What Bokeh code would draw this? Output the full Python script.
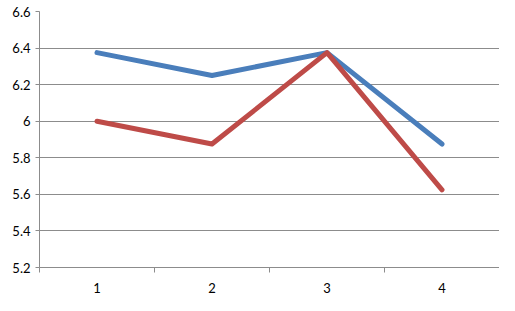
from bokeh.plotting import figure
from bokeh.models import FixedTicker, NumeralTickFormatter, Range1d
from bokeh.embed import file_html
from bokeh.resources import INLINE

categories = ["1", "2", "3", "4"]
series_blue = [6.375, 6.25, 6.375, 5.875]
series_red = [6.0, 5.875, 6.375, 5.625]
y_ticks = [5.2, 5.4, 5.6, 5.8, 6.0, 6.2, 6.4, 6.6]

xs = list(range(1, len(categories) + 1))

p = figure(width=499, height=295, output_backend="svg", toolbar_location=None,
           x_range=Range1d(0.5, len(categories) + 0.5), y_range=Range1d(5.2, 6.6),
           min_border_left=39, min_border_right=0, min_border_top=11, min_border_bottom=0)
p.outline_line_color = None
p.background_fill_color = "white"
p.border_fill_color = "white"

p.line(xs, series_blue, line_color="#4a7ebb", line_width=5, line_cap="round", line_join="round")
p.line(xs, series_red, line_color="#be4b48", line_width=5, line_cap="round", line_join="round")

p.xgrid.visible = False
p.ygrid.grid_line_color = "#8c8c8c"
p.ygrid.grid_line_width = 1
p.ygrid.ticker = FixedTicker(ticks=y_ticks)

yax = p.yaxis[0]
yax.ticker = FixedTicker(ticks=y_ticks)
yax.formatter = NumeralTickFormatter(format="0.[0]")
yax.axis_line_color = "#8c8c8c"
yax.major_tick_line_color = "#8c8c8c"
yax.major_tick_out = 4
yax.major_tick_in = 0
yax.minor_tick_out = 0
yax.minor_tick_in = 0
yax.major_label_standoff = 5
yax.major_label_text_font = "Lato"
yax.major_label_text_font_size = "13px"
yax.major_label_text_color = "#000000"

xax = p.xaxis[0]
xax.ticker = FixedTicker(ticks=xs, minor_ticks=[x - 0.5 for x in xs] + [xs[-1] + 0.5])
xax.major_label_overrides = {x: c for x, c in zip(xs, categories)}
xax.axis_line_color = "#8c8c8c"
xax.major_tick_out = 0
xax.major_tick_in = 0
xax.minor_tick_line_color = "#8c8c8c"
xax.minor_tick_out = 5
xax.minor_tick_in = 0
xax.major_label_standoff = 10
xax.major_label_text_font = "Lato"
xax.major_label_text_font_size = "13px"
xax.major_label_text_color = "#000000"

open("out.html", "w").write(file_html(p, INLINE))
